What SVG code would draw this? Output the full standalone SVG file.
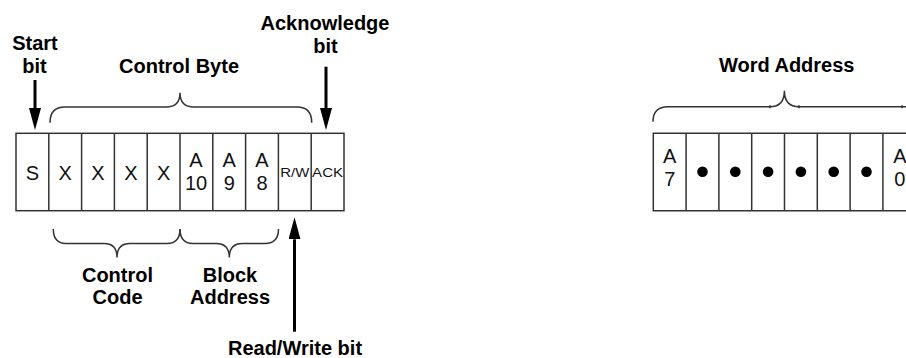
<svg xmlns="http://www.w3.org/2000/svg" width="906" height="358" viewBox="0 0 906 358">
<style>
.lbl{font-family:"Liberation Sans",Arial,sans-serif;font-weight:bold;font-size:20px;fill:#000;text-anchor:middle}
.cell{font-family:"Liberation Sans",Arial,sans-serif;font-size:20px;fill:#111;text-anchor:middle}
.small{font-family:"Liberation Sans",Arial,sans-serif;font-size:13.5px;fill:#111;text-anchor:middle}
.grid{stroke:#333;stroke-width:1.5;fill:none}
.brace{stroke:#333;stroke-width:1.5;fill:none}
.arrow{stroke:#000;stroke-width:3;fill:none}
</style>
<defs>
<marker id="head" markerUnits="userSpaceOnUse" markerWidth="22" markerHeight="12" refX="0" refY="6" orient="auto" viewBox="0 0 22 12">
<path d="M0,0 L22,6 L0,12 z" fill="#000"/>
</marker>
</defs>
<rect width="906" height="358" fill="#fff"/>

<g id="control-byte-table">
<rect class="grid" x="16" y="133.3" width="328" height="77.4"/>
<path class="grid" d="M48.8,133.3V210.7M81.6,133.3V210.7M114.4,133.3V210.7M147.2,133.3V210.7M180,133.3V210.7M212.8,133.3V210.7M245.6,133.3V210.7M278.4,133.3V210.7M311.2,133.3V210.7"/>
<text class="cell" x="32.4" y="180">S</text>
<text class="cell" x="65.2" y="180">X</text>
<text class="cell" x="98" y="180">X</text>
<text class="cell" x="130.8" y="180">X</text>
<text class="cell" x="163.6" y="180">X</text>
<text class="cell" x="196" y="167.3">A</text>
<text class="cell" x="196" y="190">10</text>
<text class="cell" x="229.2" y="167.3">A</text>
<text class="cell" x="229.2" y="190">9</text>
<text class="cell" x="262" y="167.3">A</text>
<text class="cell" x="262" y="190">8</text>
<text class="small" x="294.8" y="177.3" textLength="29" lengthAdjust="spacingAndGlyphs">R/W</text>
<text class="small" x="327.6" y="177.3" textLength="31" lengthAdjust="spacingAndGlyphs">ACK</text>
</g>

<g id="word-address-table">
<path class="grid" d="M906,133.3H653.3V210.7H906"/>
<path class="grid" d="M686.1,133.3V210.7M718.9,133.3V210.7M751.7,133.3V210.7M784.5,133.3V210.7M817.3,133.3V210.7M850.1,133.3V210.7M882.9,133.3V210.7"/>
<text class="cell" x="669.7" y="163.3">A</text>
<text class="cell" x="669.7" y="185.8">7</text>
<circle cx="702.5" cy="171.8" r="5.3" fill="#000"/>
<circle cx="735.3" cy="171.8" r="5.3" fill="#000"/>
<circle cx="768.1" cy="171.8" r="5.3" fill="#000"/>
<circle cx="800.9" cy="171.8" r="5.3" fill="#000"/>
<circle cx="833.7" cy="171.8" r="5.3" fill="#000"/>
<circle cx="866.5" cy="171.8" r="5.3" fill="#000"/>
<text class="cell" x="899.8" y="163.3">A</text>
<text class="cell" x="899.8" y="185.8">0</text>
</g>

<g id="labels">
<text class="lbl" x="35" y="50">Start</text>
<text class="lbl" x="34.5" y="72.5">bit</text>
<text class="lbl" x="179" y="72.5">Control Byte</text>
<text class="lbl" x="325" y="30.3">Acknowledge</text>
<text class="lbl" x="325.5" y="52.8">bit</text>
<text class="lbl" x="117.5" y="281.8">Control</text>
<text class="lbl" x="117.5" y="304.3">Code</text>
<text class="lbl" x="230" y="281.8">Block</text>
<text class="lbl" x="230" y="304.3">Address</text>
<text class="lbl" x="295" y="355">Read/Write bit</text>
<text class="lbl" x="786.7" y="72">Word Address</text>
</g>

<g id="connectors">
<path class="brace" d="M50,122.7 Q50,107 65,107 L166,107 Q180,107 180,92.7 Q180,107 194,107 L297,107 Q311.7,107 311.7,122.7"/>
<path class="brace" d="M53.3,229 Q53.3,243.5 66,243.5 L104,243.5 Q117,243.5 117,257.5 Q117,243.5 130,243.5 L167,243.5 Q180,243.5 180,229"/>
<path class="brace" d="M180,229 Q180,243.5 193,243.5 L216,243.5 Q229.3,243.5 229.3,257.5 Q229.3,243.5 242.6,243.5 L265,243.5 Q278.5,243.5 278.5,229"/>
<path class="brace" d="M653,121.7 Q653,106.7 668,106.7 L770,106.7 Q784.4,106.7 784.4,90.7 Q784.4,106.7 799,106.7 L906,106.7"/>
<path class="brace" d="M770,105.2V108.2M799,105.2V108.2M902,105.2V108.2"/>
<line class="arrow" x1="35" y1="80" x2="35" y2="108" marker-end="url(#head)"/>
<line class="arrow" x1="326" y1="66.7" x2="326" y2="108" marker-end="url(#head)"/>
<line class="arrow" x1="294.5" y1="331.7" x2="294.5" y2="239.3" marker-end="url(#head)"/>
</g>
</svg>
